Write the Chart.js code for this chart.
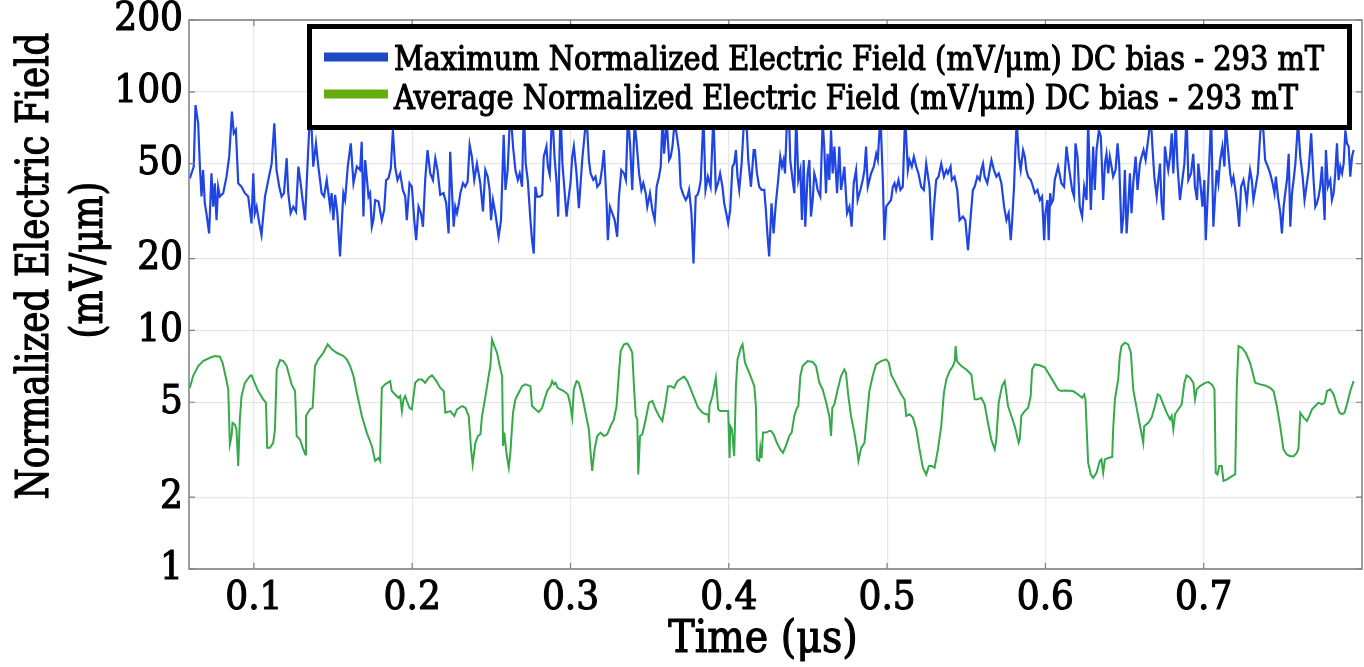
<!DOCTYPE html>
<html>
<head>
<meta charset="utf-8">
<script src="https://cdn.jsdelivr.net/npm/chart.js@4.4.1/dist/chart.umd.min.js"></script>
<style>
  html, body { margin: 0; padding: 0; background: #fff; }
</style>
</head>
<body>
<canvas id="myChart" width="1364" height="667"></canvas>
<script>
// axis ticks
const xTicks = [0.1, 0.2, 0.3, 0.4, 0.5, 0.6, 0.7];
const yTicks = [1, 2, 5, 10, 20, 50, 100, 200];

const seriesNames = [
  'Maximum Normalized Electric Field (mV/\u03bcm) DC bias - 293 mT',
  'Average Normalized Electric Field (mV/\u03bcm) DC bias - 293 mT'
];
const xTitle = 'Time (\u03bcs)';
const yTitle = ['Normalized Electric Field', '(mV/\u03bcm)'];

// maximum field, time in us
const maxTime = [
  0.0595,0.0620,0.0631,0.0648,0.0658,0.0669,0.0679,0.0690,0.0700,0.0717,
  0.0732,0.0743,0.0753,0.0764,0.0774,0.0785,0.0806,0.0827,0.0844,0.0861,
  0.0873,0.0886,0.0901,0.0922,0.0943,0.0964,0.0985,0.0996,0.1006,0.1017,
  0.1034,0.1048,0.1070,0.1091,0.1112,0.1129,0.1143,0.1160,0.1175,0.1190,
  0.1207,0.1217,0.1232,0.1249,0.1266,0.1281,0.1295,0.1323,0.1344,0.1354,
  0.1365,0.1375,0.1392,0.1407,0.1428,0.1443,0.1460,0.1481,0.1491,0.1502,
  0.1513,0.1527,0.1544,0.1565,0.1576,0.1593,0.1612,0.1629,0.1650,0.1671,
  0.1681,0.1692,0.1703,0.1724,0.1734,0.1745,0.1755,0.1766,0.1787,0.1808,
  0.1823,0.1835,0.1850,0.1865,0.1878,0.1892,0.1907,0.1924,0.1941,0.1956,
  0.1966,0.1983,0.1998,0.2013,0.2025,0.2040,0.2055,0.2068,0.2082,0.2097,
  0.2114,0.2131,0.2146,0.2160,0.2177,0.2198,0.2215,0.2230,0.2240,0.2251,
  0.2262,0.2272,0.2283,0.2295,0.2304,0.2321,0.2335,0.2350,0.2363,0.2377,
  0.2392,0.2409,0.2430,
  0.2447,0.2462,0.2477,0.2489,0.2498,0.2510,0.2525,0.2546,0.2561,0.2578,
  0.2589,0.2603,0.2620,0.2637,0.2652,0.2667,0.2679,0.2694,0.2705,0.2717,
  0.2730,0.2747,0.2757,0.2768,0.2778,0.2789,0.2806,0.2821,0.2831,0.2848,
  0.2857,0.2869,0.2884,0.2899,0.2911,0.2922,0.2937,0.2949,0.2962,0.2975,
  0.2989,0.3000,0.3011,0.3021,0.3038,0.3053,0.3074,0.3089,0.3101,0.3116,
  0.3127,0.3144,0.3158,0.3169,0.3186,0.3201,0.3211,0.3228,0.3236,0.3249,
  0.3264,0.3279,0.3295,0.3306,0.3321,0.3338,0.3350,0.3363,0.3376,0.3390,
  0.3405,0.3418,0.3433,0.3448,0.3460,0.3475,0.3485,0.3502,0.3517,0.3532,
  0.3544,0.3559,0.3570,0.3582,0.3591,0.3608,0.3623,0.3633,0.3644,0.3658,
  0.3671,0.3686,0.3696,0.3713,0.3728,0.3739,0.3749,0.3764,0.3777,0.3791,
  0.3802,0.3812,0.3823,0.3840,0.3853,0.3868,0.3885,0.3903,0.3918,0.3932,
  0.3945,0.3960,0.3971,0.3988,0.3996,0.4009,0.4023,0.4034,0.4045,0.4055,
  0.4066,0.4081,0.4098,0.4114,0.4123,0.4140,0.4157,0.4165,0.4178,0.4192,
  0.4207,0.4224,
  0.4234,0.4245,0.4255,0.4270,0.4283,0.4297,0.4312,0.4325,0.4336,0.4346,
  0.4355,0.4367,0.4380,0.4388,0.4403,0.4414,0.4426,0.4439,0.4452,0.4462,
  0.4473,0.4483,0.4498,0.4509,0.4519,0.4530,0.4540,0.4551,0.4561,0.4578,
  0.4593,0.4603,0.4614,0.4624,0.4635,0.4646,0.4656,0.4667,0.4684,0.4698,
  0.4709,0.4719,0.4730,0.4747,0.4762,0.4776,0.4789,0.4804,0.4814,0.4831,
  0.4846,0.4857,0.4867,0.4878,0.4899,0.4916,0.4931,0.4941,0.4958,0.4973,
  0.4983,0.4994,0.5009,0.5025,0.5036,0.5047,0.5057,0.5072,0.5084,0.5099,
  0.5114,0.5131,0.5141,0.5156,0.5169,0.5184,0.5198,0.5215,0.5232,0.5247,
  0.5268,0.5283,0.5296,0.5310,0.5325,0.5342,0.5359,0.5374,0.5384,0.5401,
  0.5409,0.5426,0.5443,0.5458,0.5479,0.5494,0.5511,0.5528,0.5542,0.5553,
  0.5570,0.5585,0.5595,0.5606,0.5616,0.5633,0.5648,0.5659,0.5675,0.5690,
  0.5705,0.5722,0.5739,0.5754,0.5768,0.5781,0.5789,0.5802,0.5811,0.5819,
  0.5832,0.5844,0.5859,0.5870,0.5880,0.5891,0.5908,0.5922,0.5933,0.5950,
  0.5965,0.5979,0.5992,0.6000,0.6013,0.6021,0.6030,0.6038,0.6049,0.6059,
  0.6080,0.6101,
  0.6118,0.6133,0.6143,0.6154,0.6169,0.6181,0.6190,0.6203,0.6217,0.6232,
  0.6245,0.6260,0.6270,0.6287,0.6302,0.6312,0.6323,0.6338,0.6350,0.6365,
  0.6376,0.6386,0.6397,0.6407,0.6418,0.6428,0.6443,0.6456,0.6466,0.6481,
  0.6492,0.6502,0.6513,0.6523,0.6534,0.6544,0.6555,0.6570,0.6582,0.6597,
  0.6608,0.6620,0.6633,0.6646,0.6654,0.6665,0.6675,0.6688,0.6703,0.6713,
  0.6724,0.6734,0.6745,0.6755,0.6766,0.6776,0.6787,0.6798,0.6808,0.6823,
  0.6835,0.6850,0.6865,0.6878,0.6892,0.6903,0.6920,0.6934,0.6945,0.6958,
  0.6966,0.6977,0.6992,0.7004,0.7013,0.7026,0.7034,0.7047,0.7061,0.7072,
  0.7082,0.7093,0.7104,0.7118,0.7131,0.7139,0.7152,0.7167,0.7177,0.7188,
  0.7203,0.7215,0.7224,0.7236,0.7251,0.7262,0.7272,0.7283,0.7293,0.7304,
  0.7314,0.7325,0.7342,0.7357,0.7371,0.7388,0.7405,0.7420,0.7435,0.7447,
  0.7456,0.7469,0.7484,0.7494,0.7505,0.7515,0.7526,0.7537,0.7547,0.7558,
  0.7568,0.7579,0.7596,0.7610,0.7625,0.7637,0.7652,0.7663,0.7679,0.7694,
  0.7705,0.7715,0.7726,0.7736,0.7747,0.7764,0.7772,0.7785,0.7800,0.7810,
  0.7821,0.7831,0.7842,0.7852,0.7863,0.7874,0.7884,0.7895,0.7905,0.7916,
  0.7926,0.7937,0.7947
];
const maxField = [
  43.4,48.6,88,73.8,50,36.4,47,34.1,31,25.5,
  45.5,33,41.4,29,40,36.4,37.6,44.1,53.5,82.6,
  67,69.2,41.4,40,37.6,36.4,28.1,45.5,31,33,
  28.1,25.1,36.4,42.7,50,73.8,47,40,36.4,37.6,
  52.7,37.6,31,33,31.5,48.6,41.4,29,59,80,
  69,48.6,60.8,48.6,37.6,36.4,42.7,33,37.6,29,
  37,31,20.4,37.6,35.2,48.6,60.8,41.4,48.6,47,
  61.8,30,51.8,36.4,37.6,27.2,29,35.2,34.7,29,
  32,42.7,43.4,47.8,69.2,48.6,42.7,45.5,38.8,36.4,
  29,41.4,40,29,23.9,33,31,27.2,42.7,57,
  45.5,42.7,52.7,47,37,37.6,34.1,25.5,56.1,38.8,
  27.2,33,31,34.1,37.6,41.4,40,42,59.9,53.5,
  42.7,50,41.4,
  31.5,47,44.1,38.8,29,35.2,31,24.7,29,66,
  38.8,47,85,59,47,42.7,45.5,40,85,50,
  42.7,29,23.9,21,40,36.4,36.4,37,53.5,59,
  48.6,44.8,85,53.5,42.7,30,85,50,38.8,30,
  36.4,41.4,53.5,59,45.5,32.5,51.8,66,80,51.8,
  45.5,42.7,44.1,40,41.4,48.6,57,34.1,23.9,33,
  31,29,24.7,36.4,47,45.5,42.7,80,60.8,38.8,
  75,60.8,45.5,38.8,41.4,37.6,33,37.6,32,29,
  40,44.1,48.6,80,55,75,51.8,53.5,59,75,
  66,56,40,37,35.2,36.4,38.8,31,19.1,36.4,
  37,38.8,42.7,80,38.8,44.1,40,80,38.8,41.4,
  45.5,40,34.1,30,28.1,32,48.6,50,57,44.1,
  38.8,50,80,69,51.8,40,57,57,45.5,40,
  38.8,38.8,
  32,24.7,20.4,34.1,25.5,34.1,42.7,53.5,48.6,51.8,
  45.5,75,80,51.8,42.7,37.6,80,42.7,47,29,
  51.8,27.2,45.5,51.8,30,35.2,45.5,42.7,38.8,36.4,
  75,59,37.6,55,42.7,69,45.5,59,37.6,59,
  38.8,42.7,48.6,31,33,27.2,41.4,47,35.2,38.8,
  42.7,47,59,40,45.5,48.6,55,51.8,80,42.7,
  23.9,33,34.1,35.2,40,41.4,38.8,42.7,38.8,40,
  80,47,51.8,48.6,53.5,48.6,45.5,40,38.8,50,
  40,23.9,33,42.7,44.1,50,44.1,47,45.5,48.6,
  42.7,44.1,38.8,29,30,29,21.7,30,38.8,40,
  44.1,42.7,47,50,44.1,41.4,47,51.8,47,44.1,
  45.5,41.4,33,29,31,23.9,28.1,40,59,75,
  53.5,47,57,53.5,47,44.1,42.7,40,37.6,38.8,
  35.2,36.4,23.9,31,35.2,23.9,37.6,34.1,35.2,42.7,
  48.6,41.4,
  40,59,51.8,45.5,38.8,36.4,60.8,53.5,33,30,
  40,35.2,75,32,59,38.8,57,69,65,35.2,
  50,55,45.5,53.5,48.6,44.1,47,60.8,50,25.5,
  30,47,25.5,33,45.5,31,41.4,53.5,38.8,50,
  53.5,57,51.8,60.8,67,80,60.8,44.1,36.4,42.7,
  50,34.1,29,59,51.8,47,53.5,67,45.5,75,
  48.6,35.2,42.7,50,80,42.7,45.5,55,40,35.2,
  50,42.7,33,42.7,23.9,37.6,48.6,80,27.2,36.4,
  47,41.4,51.8,59,48.6,75,59,45.5,41.4,44.1,
  37.6,32,27.2,40,42.7,38.8,34.1,41.4,47,42.7,
  35.2,38.8,45.5,67,80,51.8,48.6,45.5,41.4,37.6,
  44.1,36.4,31,25.5,33,37.6,42.7,55,27.2,37.6,
  42.7,50,75,53.5,44.1,35.2,41.4,47,67,42.7,
  33,34.1,36.4,40,48.6,29,57,40,42.7,35.2,
  37.6,45.5,60.8,42.7,48.6,45.5,50,69,60.8,59,
  44.1,53.5,57
];

// average field, time in us
const avgTime = [
  0.0595,0.0616,0.0648,0.0679,0.0722,0.0753,0.0785,0.0802,0.0823,0.0838,
  0.0848,0.0859,0.0865,0.0880,0.0890,0.0901,0.0911,0.0922,0.0943,0.0975,
  0.0985,0.1000,0.1027,0.1059,0.1076,0.1084,0.1101,0.1122,0.1133,0.1144,
  0.1165,0.1186,0.1207,0.1238,0.1260,0.1270,0.1291,0.1312,0.1325,0.1329,
  0.1354,0.1371,0.1386,0.1407,0.1439,0.1466,0.1492,0.1523,0.1566,0.1587,
  0.1608,0.1629,0.1650,0.1682,0.1713,0.1745,0.1766,0.1787,0.1797,0.1808,
  0.1829,0.1861,0.1871,0.1892,0.1913,0.1924,0.1935,0.1945,0.1956,0.1966,
  0.1983,0.1998,0.2019,0.2040,0.2061,0.2082,0.2104,0.2125,0.2146,0.2178,
  0.2199,0.2209,0.2241,0.2266,0.2283,0.2315,0.2336,0.2357,0.2372,0.2382,
  0.2399,0.2416,0.2431,
  0.2441,0.2456,0.2473,0.2483,0.2494,0.2504,0.2519,0.2536,0.2553,0.2568,
  0.2574,0.2582,0.2595,0.2610,0.2620,0.2631,0.2637,0.2652,0.2673,0.2694,
  0.2715,0.2747,0.2757,0.2778,0.2800,0.2821,0.2836,0.2853,0.2874,0.2884,
  0.2895,0.2905,0.2920,0.2937,0.2958,0.2983,0.2996,0.3011,0.3021,0.3038,
  0.3053,0.3074,0.3095,0.3116,0.3127,0.3137,0.3152,0.3169,0.3190,0.3211,
  0.3232,0.3253,0.3274,0.3291,0.3306,0.3317,0.3338,0.3359,0.3376,0.3390,
  0.3401,0.3412,0.3422,0.3428,0.3439,0.3454,0.3475,0.3496,0.3517,0.3538,
  0.3559,0.3580,0.3601,0.3616,0.3633,0.3654,0.3675,0.3696,0.3717,0.3738,
  0.3760,0.3781,0.3806,0.3834,0.3855,0.3870,0.3874,0.3878,0.3897,0.3918,
  0.3933,0.3946,0.3971,0.3996,0.4005,0.4009,0.4020,0.4034,0.4045,0.4055,
  0.4076,0.4087,0.4102,0.4129,0.4161,0.4171,0.4178,0.4192,0.4199,0.4207,
  0.4216,0.4235,0.4256,0.4266,
  0.4283,0.4304,0.4325,0.4342,0.4361,0.4382,0.4397,0.4414,0.4431,0.4439,
  0.4452,0.4466,0.4498,0.4530,0.4551,0.4572,0.4593,0.4614,0.4635,0.4646,
  0.4654,0.4667,0.4688,0.4709,0.4730,0.4740,0.4755,0.4772,0.4793,0.4810,
  0.4819,0.4836,0.4857,0.4873,0.4888,0.4909,0.4930,0.4962,0.4994,0.5011,
  0.5025,0.5047,0.5068,0.5089,0.5110,0.5121,0.5142,0.5163,0.5184,0.5205,
  0.5226,0.5247,0.5264,0.5283,0.5300,0.5321,0.5342,0.5359,0.5374,0.5395,
  0.5416,0.5427,0.5433,0.5441,0.5469,0.5500,0.5532,0.5553,0.5574,0.5595,
  0.5616,0.5637,0.5658,0.5680,0.5690,0.5705,0.5726,0.5743,0.5753,0.5764,
  0.5785,0.5806,0.5831,0.5838,0.5848,0.5869,0.5891,0.5907,0.5916,0.5933,
  0.5964,0.5996,0.6017,0.6049,0.6080,0.6101,
  0.6122,0.6175,0.6207,0.6232,0.6245,0.6253,0.6260,0.6270,0.6287,0.6302,
  0.6323,0.6344,0.6354,0.6365,0.6376,0.6397,0.6422,0.6428,0.6439,0.6460,
  0.6470,0.6481,0.6502,0.6523,0.6540,0.6555,0.6570,0.6586,0.6608,0.6618,
  0.6624,0.6650,0.6671,0.6692,0.6709,0.6724,0.6745,0.6766,0.6787,0.6798,
  0.6808,0.6819,0.6840,0.6861,0.6878,0.6892,0.6913,0.6935,0.6945,0.6956,
  0.6977,0.7008,0.7030,0.7051,0.7068,0.7076,0.7087,0.7099,0.7114,0.7125,
  0.7146,0.7178,0.7199,0.7209,0.7220,0.7241,0.7266,0.7293,0.7304,0.7325,
  0.7357,0.7388,0.7420,0.7441,0.7462,0.7483,0.7504,0.7525,0.7546,0.7568,
  0.7589,0.7599,0.7610,0.7631,0.7652,0.7667,0.7684,0.7705,0.7726,0.7747,
  0.7764,0.7779,0.7800,0.7821,0.7842,0.7857,0.7874,0.7890,0.7905,0.7926,
  0.7947
];
const avgField = [
  5.74,6.44,7.09,7.44,7.68,7.81,7.76,7.32,6.33,5.66,
  3.33,3.61,4.10,4.03,3.85,2.70,4.24,5.31,6.03,6.44,
  6.48,6.13,5.57,5.14,4.98,3.22,3.22,3.38,3.85,6.86,
  7.51,7.44,7.09,5.94,5.57,3.61,3.49,3.17,3.02,4.38,
  4.67,4.74,7.09,7.56,8.06,8.74,8.33,8.06,7.81,7.56,
  7.09,6.44,5.48,4.38,3.73,3.28,2.84,2.92,2.84,5.74,
  5.94,6.13,5.57,5.39,5.22,5.31,4.59,5.14,5.31,5.06,
  4.74,4.67,6.03,6.23,6.23,6.03,6.33,6.48,6.23,5.74,
  5.57,4.52,4.59,4.38,4.67,4.82,4.74,4.38,3.17,2.75,
  3.38,3.61,3.67,
  4.38,4.98,5.84,6.44,7.09,9.17,8.6,8.06,7.09,6.44,
  3.28,3.73,3.07,2.66,3.07,3.97,4.52,5.14,5.48,5.84,
  5.94,5.84,4.82,4.67,4.55,4.74,5.14,5.57,5.84,6.13,
  5.94,6.03,5.74,5.66,5.57,5.39,4.98,4.31,5.66,6.13,
  6.03,5.31,4.52,3.85,3.07,2.58,3.17,3.61,3.73,3.61,
  3.67,3.97,4.24,4.82,6.65,8.19,8.74,8.82,8.46,8.06,
  5.84,4.38,4.24,2.49,3.61,3.67,4.24,4.98,5.06,4.67,
  4.38,4.17,4.98,5.84,5.84,5.74,6.13,6.27,6.40,6.13,
  5.66,5.22,4.74,4.52,4.45,4.45,4.10,4.82,5.31,6.33,
  4.67,4.59,4.59,4.59,2.92,3.97,3.85,2.97,5.84,7.56,
  8.46,8.74,7.32,6.65,5.84,4.82,2.88,2.84,3.22,2.92,
  3.73,3.73,3.79,3.79,
  3.67,3.38,3.17,3.07,3.28,3.61,3.73,4.38,4.74,4.82,
  6.44,7.09,7.44,7.37,7.09,6.03,5.66,5.02,4.38,3.61,
  4.74,4.90,5.66,6.44,6.86,6.65,5.31,4.38,3.73,3.17,
  2.84,3.22,3.38,4.38,5.57,6.44,7.2,7.44,7.56,7.32,
  6.54,6.13,5.74,5.39,5.14,4.38,4.45,4.31,3.85,3.17,
  2.66,2.49,2.70,2.70,2.66,3.17,3.97,5.48,6.23,6.75,
  7.09,7.44,8.6,7.44,7.09,6.86,6.54,5.14,5.14,5.22,
  4.90,4.10,3.49,3.17,3.49,4.98,5.84,6.13,5.48,4.82,
  4.38,3.97,3.38,3.49,4.38,4.59,4.74,5.31,6.86,7.2,
  7.14,7.0,6.65,6.13,5.66,5.57,
  5.6,5.57,5.39,5.22,5.39,5.14,3.97,2.79,2.49,2.41,
  2.53,2.84,2.88,2.53,2.88,2.92,2.95,3.85,5.14,6.23,
  7.81,8.6,8.88,8.74,8.06,5.66,4.98,4.38,3.67,3.38,
  3.97,4.10,4.31,4.82,5.39,5.31,4.90,4.52,4.24,4.38,
  3.85,4.45,4.67,4.90,6.03,6.48,6.33,6.03,5.14,5.66,
  5.84,6.03,6.07,5.94,5.66,2.53,2.49,2.70,2.70,2.34,
  2.37,2.45,2.49,5.84,8.6,8.46,8.06,7.32,6.86,6.03,
  5.94,5.88,5.74,5.57,4.82,3.97,3.17,3.02,2.97,2.97,
  3.07,3.22,4.52,4.31,4.17,4.38,4.67,4.82,4.98,4.90,
  4.98,5.57,5.66,5.39,4.82,4.52,4.45,4.52,4.90,5.57,
  6.13
];

if (maxTime.length !== maxField.length) throw new Error('max arrays ' + maxTime.length + ' vs ' + maxField.length);
if (avgTime.length !== avgField.length) throw new Error('avg arrays ' + avgTime.length + ' vs ' + avgField.length);

const SERIF = "'DejaVu Serif Condensed', 'DejaVu Serif', serif";

// draws text squeezed to a target width, with a thin outline to thicken it
function drawFitted(ctx, text, x, y, sx, rot) {
  ctx.save();
  ctx.translate(x, y);
  if (rot) ctx.rotate(rot);
  ctx.scale(sx, 1);
  ctx.lineWidth = 1.1;
  ctx.strokeStyle = '#000';
  ctx.lineJoin = 'round';
  ctx.strokeText(text, 0, 0);
  ctx.fillText(text, 0, 0);
  ctx.restore();
}

const framePlugin = {
  id: 'frame',
  afterDatasetsDraw(chart) {
    const {ctx, chartArea: a, scales} = chart;
    const x = scales.x, y = scales.y;
    ctx.save();

    // plot box
    ctx.strokeStyle = '#7d7d7d';
    ctx.lineWidth = 1.5;
    ctx.strokeRect(a.left, a.top, a.right - a.left, a.bottom - a.top);

    // inward tick marks
    ctx.lineWidth = 1.2;
    ctx.beginPath();
    xTicks.forEach(v => {
      const px = x.getPixelForValue(v);
      ctx.moveTo(px, a.bottom); ctx.lineTo(px, a.bottom - 6);
      ctx.moveTo(px, a.top); ctx.lineTo(px, a.top + 6);
    });
    yTicks.forEach(v => {
      const py = y.getPixelForValue(v);
      ctx.moveTo(a.left, py); ctx.lineTo(a.left + 6, py);
      ctx.moveTo(a.right, py); ctx.lineTo(a.right - 6, py);
    });
    ctx.stroke();

    // legend box inside the plot
    ctx.fillStyle = '#fff';
    ctx.fillRect(307, 24, 1045, 106);
    ctx.strokeStyle = '#000';
    ctx.lineWidth = 5;
    ctx.strokeRect(309.5, 26.5, 1040, 101);

    ctx.lineWidth = 9;
    ctx.strokeStyle = '#1b4ac2';
    ctx.beginPath(); ctx.moveTo(324, 57); ctx.lineTo(388, 57); ctx.stroke();
    ctx.strokeStyle = '#67ad10';
    ctx.beginPath(); ctx.moveTo(324, 94); ctx.lineTo(388, 94); ctx.stroke();

    ctx.fillStyle = '#000';
    ctx.textBaseline = 'alphabetic';
    ctx.textAlign = 'left';
    ctx.font = '33px ' + SERIF;
    const legScale = Math.min(1, 904 / ctx.measureText(seriesNames[1]).width);
    drawFitted(ctx, seriesNames[0], 394, 70, legScale, 0);
    drawFitted(ctx, seriesNames[1], 394, 109, legScale, 0);

    // y axis title, two lines
    ctx.font = '44px ' + SERIF;
    ctx.textAlign = 'center';
    const ySc = Math.min(1, 467 / ctx.measureText(yTitle[0]).width);
    drawFitted(ctx, yTitle[0], 48, 266, ySc, -Math.PI / 2);
    drawFitted(ctx, yTitle[1], 102, 260, ySc, -Math.PI / 2);

    // x axis title
    const xSc = Math.min(1, 190 / ctx.measureText(xTitle).width);
    drawFitted(ctx, xTitle, 763, 652, xSc, 0);

    ctx.restore();
  }
};

function initChart(target) {
  return new Chart(target, {
    type: 'line',
    data: {
      datasets: [
        {
          label: seriesNames[0],
          data: maxTime.map((t, i) => ({x: t, y: maxField[i]})),
          borderColor: '#1f45e3',
          borderWidth: 2.2,
          pointRadius: 0,
          tension: 0
        },
        {
          label: seriesNames[1],
          data: avgTime.map((t, i) => ({x: t, y: avgField[i]})),
          borderColor: '#36a94a',
          borderWidth: 2,
          pointRadius: 0,
          tension: 0
        }
      ]
    },
    options: {
      responsive: false,
      animation: false,
      devicePixelRatio: 1,
      layout: {autoPadding: false, padding: {top: 20, right: 2, left: 0, bottom: 0}},
      plugins: {legend: {display: false}, tooltip: {enabled: false}},
      scales: {
        x: {
          type: 'linear',
          min: 0.059,
          max: 0.80,
          afterBuildTicks: s => { s.ticks = xTicks.map(v => ({value: v})); },
          afterFit: s => { s.height = 98; s.paddingLeft = 0; s.paddingRight = 0; },
          grid: {color: '#e6e6e6', lineWidth: 1.2, drawTicks: false},
          border: {display: false},
          ticks: {
            color: '#000',
            textStrokeColor: '#000',
            textStrokeWidth: 1.1,
            padding: 6,
            autoSkip: false,
            maxRotation: 0,
            font: {family: SERIF, size: 40},
            callback: v => v.toFixed(1)
          }
        },
        y: {
          type: 'logarithmic',
          min: 1,
          max: 200,
          afterBuildTicks: s => { s.ticks = yTicks.map(v => ({value: v})); },
          afterFit: s => { s.width = 189; s.paddingTop = 0; s.paddingBottom = 0; },
          grid: {color: '#e6e6e6', lineWidth: 1.2, drawTicks: false},
          border: {display: false},
          ticks: {
            color: '#000',
            textStrokeColor: '#000',
            textStrokeWidth: 1.1,
            padding: 6,
            autoSkip: false,
            font: {family: SERIF, size: 40},
            callback: v => String(v)
          }
        }
      }
    },
    plugins: [framePlugin]
  });
}

document.addEventListener('DOMContentLoaded', () => {
  initChart(document.querySelector('#myChart'));
});
</script>
</body>
</html>
